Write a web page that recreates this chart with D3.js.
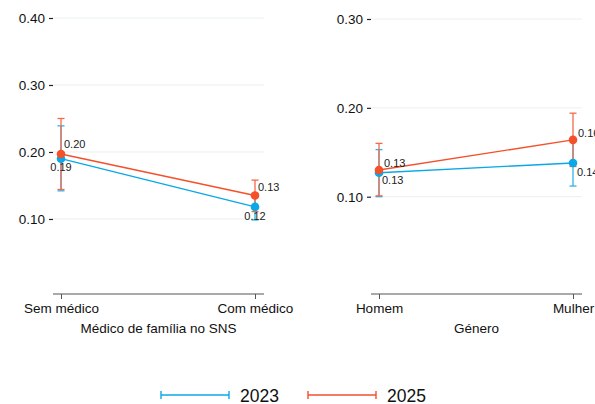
<!DOCTYPE html>
<html><head><meta charset="utf-8">
<script src="https://cdn.jsdelivr.net/npm/d3@7"></script>
<style>body{margin:0;background:#fff}svg{display:block;font-family:"Liberation Sans",Arial,Helvetica,sans-serif}</style>
</head><body><svg id="c" width="595" height="404"></svg>
<script>
// ---- data ----
const years = ["2023", "2025"];
const colors = ["#0aa8e6", "#f4502a"];

const leftCats = ["Sem médico", "Com médico"];
const leftTitle = "Médico de família no SNS";
const leftTicks = [0.10, 0.20, 0.30, 0.40];
const left2023 = [0.190, 0.118];
const left2023Lo = [0.142, 0.0985];
const left2023Hi = [0.239, 0.138];
const left2025 = [0.197, 0.135];
const left2025Lo = [0.144, 0.111];
const left2025Hi = [0.250, 0.158];
const left2023Lab = ["0.19", "0.12"];
const left2025Lab = ["0.20", "0.13"];

const rightCats = ["Homem", "Mulher"];
const rightTitle = "Género";
const rightTicks = [0.10, 0.20, 0.30];
const right2023 = [0.127, 0.138];
const right2023Lo = [0.100, 0.112];
const right2023Hi = [0.153, 0.165];
const right2025 = [0.130, 0.164];
const right2025Lo = [0.101, 0.134];
const right2025Hi = [0.160, 0.194];
const right2023Lab = ["0.13", "0.14"];
const right2025Lab = ["0.13", "0.16"];

// ---- drawing ----
const svg = d3.select("#c");
const fmt = d3.format(".2f");

function panel(cfg) {
  const g = svg.append("g");
  const x = d3.scalePoint().domain(cfg.cats).range(cfg.xr);
  const y = d3.scaleLinear().domain(cfg.yd).range([294, cfg.ytop]);
  // gridlines
  g.selectAll(".grid").data(cfg.ticks).join("line")
    .attr("x1", cfg.ax[0]).attr("x2", cfg.ax[1])
    .attr("y1", d => y(d)).attr("y2", d => y(d))
    .attr("stroke", "#e9f0f2").attr("stroke-width", 1);
  // y axis
  const ya = g.append("g").attr("transform", `translate(${cfg.ax[0]},0)`)
    .call(d3.axisLeft(y).tickValues(cfg.ticks).tickFormat(fmt).tickSize(4).tickPadding(4));
  ya.select(".domain").remove();
  ya.selectAll(".tick line").attr("stroke", "#222").attr("stroke-width", 1.2);
  ya.selectAll("text").attr("font-size", 13.5).attr("fill", "#111")
    .attr("font-family", "Liberation Sans, Arial, sans-serif");
  // x axis
  const xa = g.append("g").attr("transform", "translate(0,294)")
    .call(d3.axisBottom(x).tickSize(5).tickPadding(4).tickSizeOuter(0));
  xa.select(".domain").attr("d", `M${cfg.ax[0]},0H${cfg.ax[1]}`).attr("stroke", "#555").attr("stroke-width", 1.2);
  xa.selectAll(".tick line").attr("stroke", "#555");
  xa.selectAll("text").attr("font-size", 13.5).attr("fill", "#111")
    .attr("font-family", "Liberation Sans, Arial, sans-serif");
  g.append("text").attr("x", (cfg.ax[0] + cfg.ax[1]) / 2).attr("y", 333)
    .attr("text-anchor", "middle").attr("font-size", 13.5).attr("fill", "#111").text(cfg.title);

  const layers = ["eb", "ln", "pt", "lb"].reduce((o, k) => (o[k] = g.append("g"), o), {});
  layers.eb.attr("opacity", 0.85);

  cfg.series.forEach((s, si) => {
    const col = colors[si];
    const pts = cfg.cats.map((c, i) => ({c, v: s.v[i], lo: s.lo[i], hi: s.hi[i], lab: s.lab[i], i}));
    const eb = layers.eb.append("g");
    eb.selectAll(".v").data(pts).join("line")
      .attr("x1", d => x(d.c)).attr("x2", d => x(d.c))
      .attr("y1", d => y(d.lo)).attr("y2", d => y(d.hi))
      .attr("stroke", col).attr("stroke-width", 1.3);
    eb.selectAll(".ch").data(pts).join("line")
      .attr("x1", d => x(d.c) - 3.5).attr("x2", d => x(d.c) + 3.5)
      .attr("y1", d => y(d.hi)).attr("y2", d => y(d.hi))
      .attr("stroke", col).attr("stroke-width", 1.3);
    eb.selectAll(".cl").data(pts).join("line")
      .attr("x1", d => x(d.c) - 3.5).attr("x2", d => x(d.c) + 3.5)
      .attr("y1", d => y(d.lo)).attr("y2", d => y(d.lo))
      .attr("stroke", col).attr("stroke-width", 1.3);
    layers.ln.append("path").datum(pts)
      .attr("d", d3.line().x(d => x(d.c)).y(d => y(d.v)))
      .attr("fill", "none").attr("stroke", col).attr("stroke-width", 1.4);
    layers.pt.append("g").selectAll("circle").data(pts).join("circle")
      .attr("cx", d => x(d.c)).attr("cy", d => y(d.v)).attr("r", 4.3).attr("fill", col);
    layers.lb.append("g").selectAll("text").data(pts).join("text")
      .attr("x", d => x(d.c) + s.off[d.i][0]).attr("y", d => y(d.v) + s.off[d.i][1])
      .attr("text-anchor", s.anchor).attr("font-size", 11).attr("fill", "#222")
      .text(d => d.lab);
  });
}

panel({
  cats: leftCats, title: leftTitle, ticks: leftTicks,
  xr: [61, 255], ax: [53, 264], yd: [-0.012, 0.40], ytop: 18,
  series: [
    {v: left2023, lo: left2023Lo, hi: left2023Hi, lab: left2023Lab, anchor: "middle", off: [[0, 12.7], [0, 12.6]]},
    {v: left2025, lo: left2025Lo, hi: left2025Hi, lab: left2025Lab, anchor: "start", off: [[3, -5.7], [3, -5]]}
  ]
});
panel({
  cats: rightCats, title: rightTitle, ticks: rightTicks,
  xr: [379, 573], ax: [371, 582], yd: [-0.0095, 0.30], ytop: 19,
  series: [
    {v: right2023, lo: right2023Lo, hi: right2023Hi, lab: right2023Lab, anchor: "start", off: [[3, 11.3], [4, 13.3]]},
    {v: right2025, lo: right2025Lo, hi: right2025Hi, lab: right2025Lab, anchor: "start", off: [[5, -3.3], [5, -2.7]]}
  ]
});

// legend
const leg = svg.append("g");
const legX = [161, 308];
years.forEach((yr, i) => {
  const x0 = legX[i], x1 = x0 + 68;
  leg.append("line").attr("x1", x0).attr("x2", x1).attr("y1", 395).attr("y2", 395)
    .attr("stroke", colors[i]).attr("stroke-width", 1.4);
  [x0, x1].forEach(xx => leg.append("line").attr("x1", xx).attr("x2", xx)
    .attr("y1", 391).attr("y2", 399).attr("stroke", colors[i]).attr("stroke-width", 1.4));
  leg.append("text").attr("x", x1 + 11).attr("y", 401.5).attr("font-size", 17.5)
    .attr("fill", "#111").text(yr);
});
</script></body></html>
